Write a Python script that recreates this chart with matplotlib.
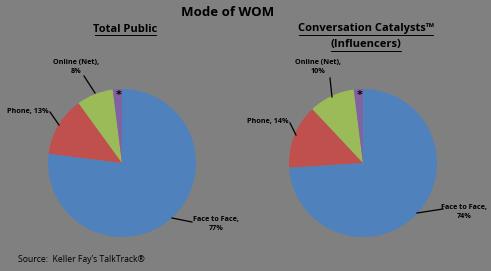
import matplotlib.pyplot as plt

# data
modes = ["Face to Face", "Phone", "Online (Net)", "Other"]
total_public = [77, 13, 8, 2]
influencers = [74, 14, 10, 2]
colors = ["#4f81bd", "#c0504d", "#9bbb59", "#8064a2"]
bg = "#808080"

W, H = 491, 271
fig = plt.figure(figsize=(W / 100, H / 100), dpi=100, facecolor=bg)


def px(x, y):
    # top-left pixel coords -> figure fraction
    return x / W, 1 - y / H


def make_pie(cx, cy, r, vals):
    ax = fig.add_axes([(cx - r) / W, (H - cy - r) / H, 2 * r / W, 2 * r / H])
    ax.pie(vals, colors=colors, startangle=90, counterclock=False,
           radius=1, wedgeprops=dict(linewidth=0))
    ax.set_xlim(-1, 1)
    ax.set_ylim(-1, 1)
    ax.set_aspect("auto")
    ax.axis("off")
    return ax


def leader(x0, y0, x1, y1, lw=0.9):
    fig.add_artist(plt.Line2D([x0 / W, x1 / W], [1 - y0 / H, 1 - y1 / H],
                              color="black", lw=lw, transform=fig.transFigure))


make_pie(122, 163, 74, total_public)
make_pie(363, 163, 74, influencers)

lab = dict(fontsize=5.2, fontweight="bold", color="black", ha="center", va="center",
           family="Open Sans", linespacing=1.5)
head = dict(fontsize=8, fontweight="bold", ha="center", va="center", family="Open Sans")

fig.text(*px(228, 13), "Mode of WOM", fontsize=9.5, fontweight="bold",
         ha="center", va="center", family="Open Sans")
fig.text(*px(125, 29), "Total Public", **head)
fig.text(*px(366, 29), "Conversation Catalysts\u2122", **head)
fig.text(*px(366, 45), "(Influencers)", **head)
# underlines
leader(95, 35, 156, 35, 0.7)
leader(299, 35, 433, 35, 0.7)
leader(331, 51, 401, 51, 0.7)

# left pie labels
fig.text(*px(76, 67), "Online (Net),\n8%", **lab)
leader(84, 76, 95, 93)
fig.text(*px(28, 111), "Phone, 13%", **lab)
leader(50, 112, 59, 125)
fig.text(*px(216, 224), "Face to Face,\n77%", **lab)
leader(172, 218, 192, 222)
fig.text(*px(119, 95), "*", fontsize=8, fontweight="bold", ha="center", va="center")

# right pie labels
fig.text(*px(318, 67), "Online (Net),\n10%", **lab)
leader(330, 78, 332, 97)
fig.text(*px(268, 121), "Phone, 14%", **lab)
leader(290, 123, 296, 135)
fig.text(*px(464, 212), "Face to Face,\n74%", **lab)
leader(417, 213, 443, 209)
fig.text(*px(360, 95), "*", fontsize=8, fontweight="bold", ha="center", va="center")

fig.text(*px(18, 260), "Source:  Keller Fay\u2019s TalkTrack\u00ae", fontsize=6.2,
         ha="left", va="center", family="Open Sans", color="black")

fig.savefig("out.png", dpi=100, facecolor=bg)
